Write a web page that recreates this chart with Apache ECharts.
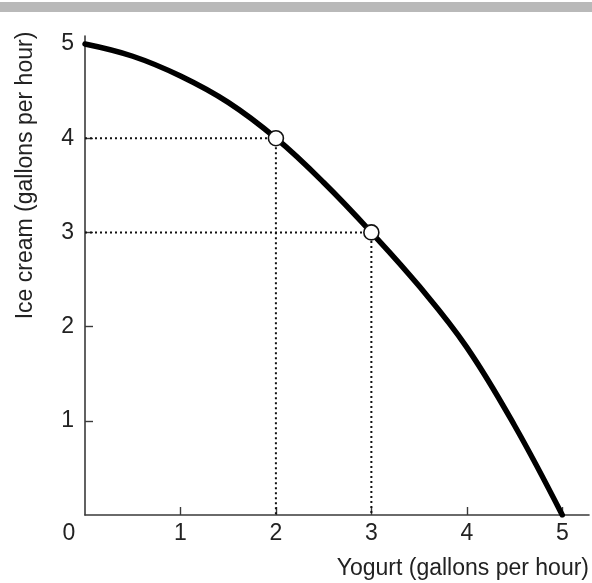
<!DOCTYPE html>
<html>
<head>
<meta charset="utf-8">
<script src="https://cdn.jsdelivr.net/npm/echarts@6/dist/echarts.min.js"></script>
<style>html,body{margin:0;padding:0;background:#fff;}#c{width:592px;height:583px;}</style>
</head>
<body>
<div id="c"></div>
<script>
// Data
var curveX = [0, 0.5, 1, 1.5, 2, 2.5, 3, 3.5, 4, 4.5, 5];
var curveY = [5, 4.87, 4.66, 4.38, 4, 3.53, 3, 2.43, 1.78, 0.95, 0];
var pointsX = [2, 3];
var pointsY = [4, 3];
var xTickLabels = [0, 1, 2, 3, 4, 5];
var yTickLabels = [1, 2, 3, 4, 5];
var xAxisTitle = 'Yogurt (gallons per hour)';
var yAxisTitle = 'Ice cream (gallons per hour)';

var FONT = 'Liberation Sans';
var curveData = curveX.map(function (x, i) { return [x, curveY[i]]; });
var pointData = pointsX.map(function (x, i) { return [x, pointsY[i]]; });
var guideSeries = pointData.map(function (p) {
  return {
    type: 'line', silent: true, symbol: 'none', z: 1,
    data: [[0, p[1]], [p[0], p[1]], [p[0], 0]],
    lineStyle: { color: '#111', width: 2, type: [2, 3] }
  };
});

var chart = echarts.init(document.getElementById('c'), null, { renderer: 'canvas' });
chart.setOption({
  animation: false,
  backgroundColor: '#fff',
  graphic: [{
    type: 'rect', left: 0, top: 2, shape: { width: 592, height: 10 },
    style: { fill: '#b9b9b9' }, z: 10
  }],
  grid: { left: 85, right: 2, top: 36, bottom: 68, containLabel: false },
  xAxis: {
    type: 'value', min: 0, max: 5.28, interval: 1,
    splitLine: { show: false },
    axisLine: { lineStyle: { color: '#3a3a3a', width: 1.6 } },
    axisTick: { inside: true, length: 8, customValues: [1, 2, 3, 4, 5], lineStyle: { color: '#3a3a3a', width: 1.4 } },
    axisLabel: {
      customValues: xTickLabels, margin: 7, color: '#222', fontFamily: FONT, fontSize: 23,
      formatter: function (v) { return v === 0 ? '{z|0}' : String(v); },
      rich: { z: { padding: [0, 32, 0, 0], fontFamily: FONT, fontSize: 23, color: '#222' } }
    },
    name: xAxisTitle, nameLocation: 'end', nameGap: 0,
    nameTextStyle: { align: 'right', verticalAlign: 'top', padding: [42, 0, 0, 0], fontFamily: FONT, fontSize: 23, color: '#222' }
  },
  yAxis: {
    type: 'value', min: 0, max: 5.085, interval: 1,
    splitLine: { show: false },
    axisLine: { lineStyle: { color: '#3a3a3a', width: 1.6 } },
    axisTick: { inside: true, length: 8, customValues: [1, 2, 3, 4], lineStyle: { color: '#3a3a3a', width: 1.4 } },
    axisLabel: { customValues: yTickLabels, margin: 11, color: '#222', fontFamily: FONT, fontSize: 23 },
    name: yAxisTitle, nameLocation: 'middle', nameGap: 48, nameRotate: 90,
    nameTextStyle: { padding: [0, 0, 0, 200], fontFamily: FONT, fontSize: 23, color: '#222' }
  },
  series: guideSeries.concat([
    {
      type: 'line', data: curveData, smooth: 0.4, symbol: 'none', z: 3,
      lineStyle: { color: '#000', width: 5.5, cap: 'round' }
    },
    {
      type: 'scatter', data: pointData, symbol: 'circle', symbolSize: 15, z: 5,
      itemStyle: { color: '#fff', borderColor: '#111', borderWidth: 1.6, opacity: 1 }
    }
  ])
});
</script>
</body>
</html>
